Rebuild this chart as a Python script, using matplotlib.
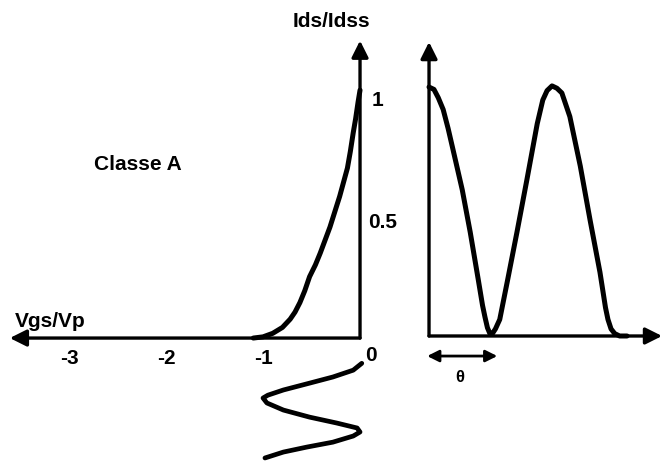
import matplotlib
matplotlib.use('Agg')
import matplotlib.pyplot as plt

plt.rcParams['font.family'] = ['Liberation Sans', 'DejaVu Sans']

# transfer curve Ids/Idss vs Vgs/Vp
vgs_tr = [-1.10, -1.0, -0.90, -0.80, -0.72, -0.67, -0.62, -0.57, -0.52, -0.46, -0.41,
          -0.36, -0.31, -0.26, -0.21, -0.17, -0.13, -0.10, -0.07, -0.045, -0.02, 0.0]
ids_tr = [0.0, 0.005, 0.02, 0.045, 0.08, 0.11, 0.15, 0.20, 0.26, 0.31, 0.36,
          0.415, 0.47, 0.535, 0.60, 0.66, 0.72, 0.79, 0.87, 0.93, 1.00, 1.05]

# input signal drawn under the Vgs axis (vertical = time, going down)
vgs_in = [0.018, -0.07, -0.28, -0.52, -0.79, -0.95, -1.0, -0.96, -0.79, -0.52, -0.24,
          -0.03, 0.0, -0.07, -0.28, -0.55, -0.79, -0.98]
t_in = [-0.107, -0.136, -0.165, -0.191, -0.220, -0.242, -0.254, -0.275, -0.305, -0.335, -0.360,
        -0.381, -0.398, -0.415, -0.441, -0.462, -0.483, -0.508]

# output current vs angle (units of pi)
t_out = [0, 0.08, 0.15, 0.23, 0.31, 0.39, 0.54, 0.67, 0.80, 0.87, 0.91, 0.95, 0.99, 1.03,
         1.08, 1.15, 1.28, 1.43, 1.59, 1.76, 1.85, 1.92, 2.0, 2.08, 2.16, 2.29, 2.46, 2.62,
         2.78, 2.87, 2.91, 2.96, 3.02, 3.10, 3.22]
ids_out = [1.055, 1.045, 1.01, 0.96, 0.88, 0.79, 0.62, 0.44, 0.24, 0.13, 0.08, 0.035, 0.01, 0.01,
           0.03, 0.07, 0.24, 0.44, 0.66, 0.90, 1.00, 1.04, 1.06, 1.05, 1.03, 0.93, 0.72, 0.49,
           0.27, 0.12, 0.07, 0.03, 0.01, 0.0, 0.0]

x_ticks = [-3, -2, -1]
y_ticks = [1, 0.5]

fig = plt.figure(figsize=(6.63, 4.66), dpi=100)

# left part: transfer characteristic
ax = fig.add_axes([0, 0, 400 / 663, 1])
ax.set_xlim(-3.711, 0.412)
ax.set_ylim(-0.542, 1.432)
ax.axis('off')

arrow = dict(arrowstyle='-|>,head_length=1.0,head_width=0.5', lw=2.4, color='black',
             shrinkA=0, shrinkB=0)
ax.annotate('', xy=(-3.61, 0), xytext=(0, 0), arrowprops=arrow)
ax.annotate('', xy=(0, 1.26), xytext=(0, 0), arrowprops=arrow)

ax.plot(vgs_tr, ids_tr, color='black', lw=3.6, solid_capstyle='round')
ax.plot(vgs_in, t_in, color='black', lw=3.4, solid_capstyle='round', solid_joinstyle='round')

fs = 15
for v in x_ticks:
    ax.text(v, -0.085, str(v), ha='center', va='center', fontsize=fs, fontweight='bold')
ax.text(0.113, -0.072, '0', ha='center', va='center', fontsize=fs, fontweight='bold')
ax.text(0.12, y_ticks[0] + 0.008, '1', ha='left', va='center', fontsize=fs, fontweight='bold')
ax.text(0.082, y_ticks[1] - 0.01, '0.5', ha='left', va='center', fontsize=fs, fontweight='bold')

ax.text(-0.29, 1.343, 'Ids/Idss', ha='center', va='center', fontsize=fs, fontweight='bold')
ax.text(-3.19, 0.068, 'Vgs/Vp', ha='center', va='center', fontsize=fs, fontweight='bold')
ax.text(-2.29, 0.737, 'Classe A', ha='center', va='center', fontsize=fs, fontweight='bold')

# right part: output current
ax2 = fig.add_axes([400 / 663, 0, 263 / 663, 1])
ax2.set_xlim(-0.472, 3.805)
ax2.set_ylim(-0.551, 1.424)
ax2.axis('off')

ax2.annotate('', xy=(0, 1.246), xytext=(0, 0), arrowprops=arrow)
ax2.annotate('', xy=(3.79, 0), xytext=(0, 0), arrowprops=arrow)
ax2.plot(t_out, ids_out, color='black', lw=3.6, solid_capstyle='round', solid_joinstyle='round')

ax2.annotate('', xy=(-0.03, -0.085), xytext=(1.11, -0.085),
             arrowprops=dict(arrowstyle='<|-|>,head_length=0.7,head_width=0.35', lw=2,
                             color='black', shrinkA=0, shrinkB=0))
ax2.text(0.5, -0.174, 'θ', ha='center', va='center', fontsize=12, fontweight='bold')

fig.savefig('out.png', dpi=100)
